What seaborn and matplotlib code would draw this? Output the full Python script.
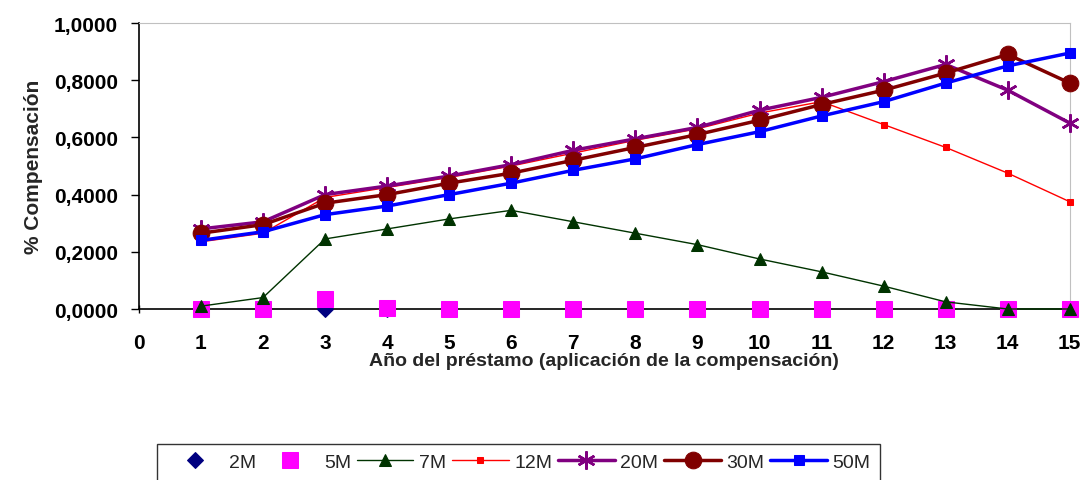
import seaborn as sns
import pandas as pd
import matplotlib.pyplot as plt
from matplotlib.ticker import FuncFormatter

anios = list(range(1, 16))
s2m = [0, 0, 0, 0, 0, 0, 0, 0, 0, 0, 0, 0, 0, 0, 0]
s5m = [0, 0, 0.035, 0.005, 0, 0, 0, 0, 0, 0, 0, 0, 0, 0, 0]
s7m = [0.01, 0.04, 0.245, 0.28, 0.315, 0.345, 0.305, 0.265, 0.225, 0.175, 0.13, 0.08, 0.025, 0.0, 0.0]
s12m = [0.235, 0.265, 0.39, 0.425, 0.46, 0.50, 0.545, 0.59, 0.63, 0.685, 0.725, 0.645, 0.565, 0.475, 0.375]
s20m = [0.28, 0.305, 0.40, 0.43, 0.465, 0.505, 0.555, 0.595, 0.635, 0.695, 0.74, 0.795, 0.855, 0.765, 0.65]
s30m = [0.265, 0.295, 0.37, 0.40, 0.44, 0.475, 0.52, 0.565, 0.61, 0.66, 0.715, 0.765, 0.825, 0.89, 0.79]
s50m = [0.24, 0.27, 0.33, 0.36, 0.40, 0.44, 0.485, 0.525, 0.575, 0.62, 0.675, 0.725, 0.79, 0.85, 0.895]
nombres = ['2M', '5M', '7M', '12M', '20M', '30M', '50M']

sns.set_style('white')
plt.rcParams['font.family'] = ['Liberation Sans', 'DejaVu Sans']

# estilo de cada serie
estilos = {
    '2M': dict(color='#000080', marker='D', markersize=8, linestyle=''),
    '5M': dict(color='#ff00ff', marker='s', markersize=12, linestyle=''),
    '7M': dict(color='#003300', marker='^', markersize=9, linewidth=1),
    '12M': dict(color='#ff0000', marker='s', markersize=5, linewidth=1),
    '20M': dict(color='#800080', marker=(6, 2, 0), markersize=13, markeredgewidth=1.8, linewidth=2.5),
    '30M': dict(color='#800000', marker='o', markersize=12, linewidth=2.5),
    '50M': dict(color='#0000ff', marker='s', markersize=7, linewidth=2.5),
}

series = [s2m, s5m, s7m, s12m, s20m, s30m, s50m]
df = pd.DataFrame({'anio': anios * 7,
                   'valor': sum(series, []),
                   'serie': [n for n in nombres for _ in anios]})

fig = plt.figure(figsize=(10.85, 4.81), dpi=100)
ax = fig.add_axes([0.128, 0.3555, 0.858, 0.5946])

handles = []
for n in nombres:
    sub = df[df['serie'] == n]
    st = estilos[n]
    sns.lineplot(data=sub, x='anio', y='valor', ax=ax, clip_on=False, zorder=3,
                 markeredgecolor=st['color'], markerfacecolor=st['color'], **st)
    handles.append(ax.lines[-1])

ax.set_xlim(0, 15)
ax.set_ylim(0, 1.0)
ax.set_xticks(range(0, 16))
ax.set_yticks([0, 0.2, 0.4, 0.6, 0.8, 1.0])
ax.yaxis.set_major_formatter(FuncFormatter(lambda v, p: f'{v:.4f}'.replace('.', ',')))
ax.tick_params(axis='x', labelsize=15, length=6, width=1, direction='inout', pad=14,
               bottom=True, colors='black')
ax.tick_params(axis='y', labelsize=15, length=6, width=1, direction='out', pad=9,
               left=True, colors='black')
for lab in ax.get_xticklabels() + ax.get_yticklabels():
    lab.set_fontweight('bold')

for s in ['top', 'right']:
    ax.spines[s].set_color('#c0c0c0')
for s in ['left', 'bottom']:
    ax.spines[s].set_color('black')
    ax.spines[s].set_linewidth(1.2)

ax.set_xlabel('Año del préstamo (aplicación de la compensación)', fontsize=14, fontweight='bold', labelpad=0)
ax.set_ylabel('% Compensación', fontsize=15, fontweight='bold', labelpad=8)

leg = fig.legend(handles, nombres, loc='upper center', bbox_to_anchor=(0.478, 0.075),
                 ncol=7, fontsize=14, frameon=True, fancybox=False, handlelength=2.9,
                 columnspacing=0.3, handletextpad=0.3, borderpad=0.5, borderaxespad=0)
leg.get_frame().set_edgecolor('black')
leg.get_frame().set_linewidth(1)

plt.savefig('out.png', dpi=100)
